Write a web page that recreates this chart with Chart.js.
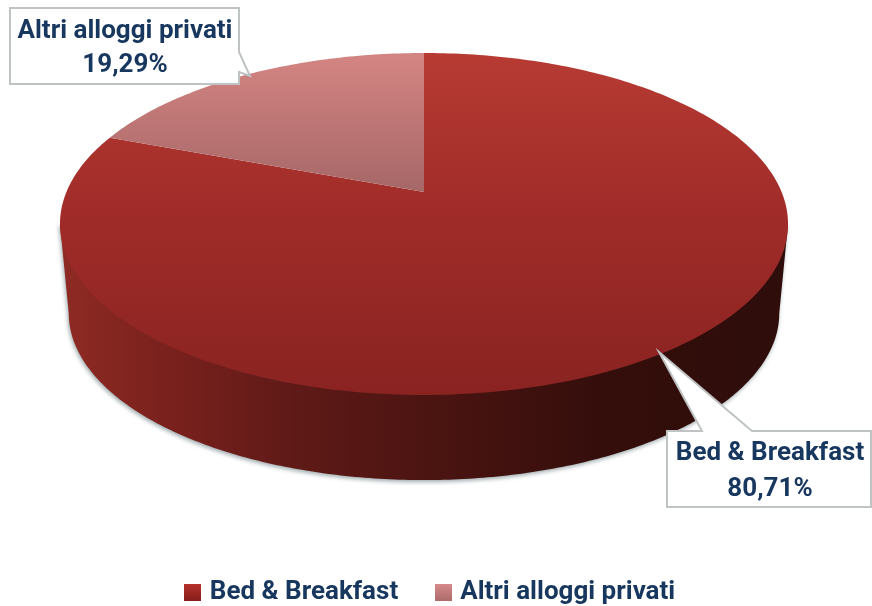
<!DOCTYPE html>
<html>
<head>
<meta charset="utf-8">
<style>
html,body{margin:0;padding:0;background:#fff;}
#wrap{position:relative;width:872px;height:606px;}
canvas{filter:blur(0.35px);}
</style>
<script src="https://cdn.jsdelivr.net/npm/chart.js@4/dist/chart.umd.min.js"></script>
</head>
<body>
<div id="wrap"><canvas id="c" width="872" height="606"></canvas></div>
<script>
const categories = ['Bed & Breakfast', 'Altri alloggi privati'];
const values = [80.71, 19.29];
const valueLabels = ['80,71%', '19,29%'];

const FONT = 'Roboto,"Liberation Sans",sans-serif';
const NAVY = '#17375E';
const geo = {cx:424, y0:192, A:357.6, B:165, k:0.187};
const sideGeo = {cx:424, y0:282, A:349, B:161, k:0.187};
function proj(g,a){
  const u=Math.cos(a), v=Math.sin(a), w=1-g.k*v;
  return [g.cx+g.A*u/w, g.y0+g.B*v/w];
}
function vGrad(ctx,y1,y2,stops){
  const gr=ctx.createLinearGradient(0,y1,0,y2);
  stops.forEach(s=>gr.addColorStop(s[0],s[1]));
  return gr;
}
const sliceStops=[
  [[0,'#B73B33'],[0.45,'#A12C29'],[1,'#892321']],
  [[0,'#D48583'],[1,'#A66767']]
];

const pie3d={
  id:'pie3d',
  beforeDatasetsDraw(chart){
    const ctx=chart.ctx, arcs=chart.getDatasetMeta(0).data;
    ctx.save();
    const a0=Math.asin(geo.k), a1=Math.PI-a0, N=240;
    ctx.beginPath();
    let p=proj(geo,a0); ctx.moveTo(p[0],p[1]);
    for(let i=0;i<=N;i++){ p=proj(sideGeo,a0+(a1-a0)*i/N); ctx.lineTo(p[0],p[1]); }
    p=proj(geo,a1); ctx.lineTo(p[0],p[1]);
    ctx.closePath();
    const sg=ctx.createLinearGradient(60,0,788,0);
    sg.addColorStop(0,'#8E2A23');
    sg.addColorStop(0.15,'#7A211D');
    sg.addColorStop(0.32,'#5F1A17');
    sg.addColorStop(0.55,'#471310');
    sg.addColorStop(0.75,'#340E0B');
    sg.addColorStop(1,'#2E0D0A');
    ctx.fillStyle=sg;
    ctx.shadowColor='rgba(80,100,105,0.55)';
    ctx.shadowBlur=4; ctx.shadowOffsetX=-1; ctx.shadowOffsetY=2;
    ctx.fill();
    ctx.shadowColor='transparent';
    arcs.forEach((arc,i)=>{
      const s=arc.startAngle, e=arc.endAngle, n=Math.ceil((e-s)*60);
      ctx.beginPath();
      ctx.moveTo(geo.cx,geo.y0);
      for(let j=0;j<=n;j++){ const q=proj(geo,s+(e-s)*j/n); ctx.lineTo(q[0],q[1]); }
      ctx.closePath();
      ctx.fillStyle= i===0 ? vGrad(ctx,53,395,sliceStops[0]) : vGrad(ctx,53,192,sliceStops[1]);
      ctx.fill();
    });
    ctx.restore();
    return false;
  },
  afterDraw(chart){
    const ctx=chart.ctx;
    const shapes=[
      [[667,431],[702,431],[659,352],[752,431],[871,431],[871,507],[667,507]],
      [[10,8],[239,8],[239,52],[250,76],[239,72],[239,84],[10,84]]
    ];
    const text=[[770,453,489],[125,31,65]];
    ctx.save();
    shapes.forEach((sh,i)=>{
      ctx.beginPath();
      sh.forEach((q,j)=> j? ctx.lineTo(q[0],q[1]) : ctx.moveTo(q[0],q[1]));
      ctx.closePath();
      ctx.fillStyle='#fff'; ctx.fill();
      ctx.lineWidth=2; ctx.strokeStyle='#BFC3C3'; ctx.lineJoin='miter'; ctx.stroke();
      ctx.fillStyle=NAVY;
      ctx.font='700 26px '+FONT;
      ctx.textAlign='center'; ctx.textBaseline='middle';
      ctx.fillText(categories[i],text[i][0],text[i][1]);
      ctx.fillText(valueLabels[i],text[i][0],text[i][2]);
    });
    ctx.restore();
  }
};

function marker(stops){
  const c=document.createElement('canvas'); c.width=17; c.height=17;
  const x=c.getContext('2d'), g=x.createLinearGradient(0,0,0,17);
  stops.forEach(s=>g.addColorStop(s[0],s[1]));
  x.fillStyle=g; x.fillRect(0,0,17,17);
  return c;
}
const markers=[marker([[0,'#B8322C'],[1,'#861F1C']]),marker([[0,'#D88A8A'],[1,'#AD6C6C']])];

new Chart(document.getElementById('c'),{
  type:'pie',
  data:{labels:categories,datasets:[{data:values,backgroundColor:['#A12C29','#C47C7B'],borderWidth:0}]},
  options:{
    responsive:false,animation:false,
    layout:{padding:{right:8,bottom:-9}},
    plugins:{
      tooltip:{enabled:false},
      legend:{
        position:'bottom',
        labels:{
          usePointStyle:true,pointStyleWidth:8,boxHeight:17,padding:41,
          color:NAVY,font:{family:FONT,size:26,weight:'700'},
          generateLabels(chart){
            return categories.map((t,i)=>({text:t,pointStyle:markers[i],fontColor:NAVY,lineWidth:0,hidden:false,index:i}));
          }
        }
      }
    }
  },
  plugins:[pie3d]
});
</script>
</body>
</html>
